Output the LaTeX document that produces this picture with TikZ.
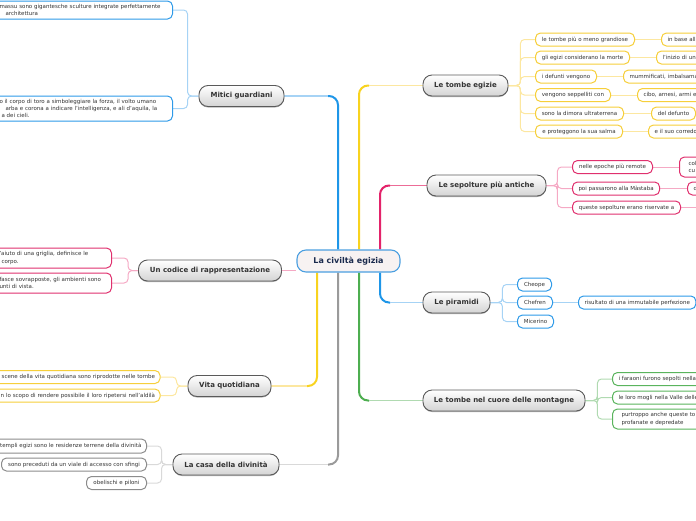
\documentclass[tikz,border=0pt]{standalone}
\usepackage{fontspec}
\setmainfont{DejaVu Sans}
\usetikzlibrary{calc,shadows,backgrounds}
\definecolor{bS}{HTML}{1E96E8}
\definecolor{bL}{HTML}{A6D3F5}
\definecolor{bB}{HTML}{2E9AE8}
\definecolor{yS}{HTML}{F8D31F}
\definecolor{yL}{HTML}{FCE7A0}
\definecolor{yB}{HTML}{F6CF3A}
\definecolor{pS}{HTML}{E3236A}
\definecolor{pM}{HTML}{EC6C97}
\definecolor{pL}{HTML}{F5A9C4}
\definecolor{pB}{HTML}{E0306E}
\definecolor{gS}{HTML}{4DAE50}
\definecolor{gL}{HTML}{B0DAB1}
\definecolor{gB}{HTML}{5AB45D}
\definecolor{kS}{HTML}{9A9A9A}
\definecolor{kL}{HTML}{D9D9D9}
\definecolor{kB}{HTML}{8C8C8C}
\definecolor{topicB}{HTML}{5A5A5A}
\definecolor{topicBot}{HTML}{D4D4D4}
\definecolor{topicT}{HTML}{333333}
\definecolor{ctrB}{HTML}{4B9FE0}
\definecolor{ctrF}{HTML}{F7F2F2}
\definecolor{ctrT}{HTML}{1B2B4E}
\definecolor{subT}{HTML}{333333}
\tikzset{
  topic/.style={draw=topicB, line width=0.9pt, rounded corners=9pt, top color=white, bottom color=topicBot,
    minimum height=21pt, inner sep=0pt, text=topicT, font=\bfseries\fontsize{7}{8}\selectfont,
    drop shadow={shadow xshift=0pt, shadow yshift=-1pt, opacity=0.3, fill=black}},
  ctr/.style={draw=ctrB, line width=1.1pt, rounded corners=9pt, fill=ctrF, text=ctrT,
    font=\bfseries\fontsize{8}{9}\selectfont, minimum width=103pt, minimum height=22pt, inner sep=0pt},
  sub/.style={line width=1pt, rounded corners=5pt, fill=white, minimum height=13pt, inner xsep=6pt,
    inner ysep=0pt, text=subT, font=\fontsize{5.5}{7.2}\selectfont},
  ysub/.style={sub, draw=yB}, psub/.style={sub, draw=pB}, bsub/.style={sub, draw=bB},
  gsub/.style={sub, draw=gB}, ksub/.style={sub, draw=kB},
  rcut/.style={anchor=west, align=left, text width=80pt},
  lcut/.style={anchor=east, align=left, inner xsep=5pt},
  lcutr/.style={anchor=east, align=right, inner xsep=5pt, text width=200pt},
  stem/.style={line width=2pt, rounded corners=9pt},
  stemend/.style={line width=1.3pt},
  twig/.style={line width=1pt, rounded corners=4pt}
}
\begin{document}
\begin{tikzpicture}[x=1pt,y=-1pt]
\useasboundingbox (0,0) rectangle (696,520);
% central and main topics
\node[ctr] (ctr) at (348.5,261) {La civiltà egizia};
\node[topic, minimum width=85pt] (mitici) at (241.5,96) {Mitici guardiani};
\node[topic, minimum width=143pt] (codice) at (210,270.5) {Un codice di rappresentazione};
\node[topic, minimum width=83pt] (vita) at (229.5,386) {Vita quotidiana};
\node[topic, minimum width=106pt] (casa) at (226,464.5) {La casa della divinità};
\node[topic, minimum width=85pt] (tombe) at (465.5,85.5) {Le tombe egizie};
\node[topic, minimum width=119pt] (sep) at (486.5,185.5) {Le sepolture più antiche};
\node[topic, minimum width=67pt] (pir) at (456.5,302.5) {Le piramidi};
\node[topic, minimum width=162pt] (mont) at (504,400.5) {Le tombe nel cuore delle montagne};
% Le tombe egizie
\node[ysub, anchor=west, minimum width=99pt] (ty1) at (535,39.5) {le tombe più o meno grandiose};
\node[ysub, anchor=west, minimum width=94pt] (ty2) at (535,57.5) {gli egizi considerano la morte};
\node[ysub, anchor=west, minimum width=61pt] (ty3) at (535,76.5) {i defunti vengono};
\node[ysub, anchor=west, minimum width=75pt] (ty4) at (535,95) {vengono seppelliti con};
\node[ysub, anchor=west, minimum width=88pt] (ty5) at (535,113.5) {sono la dimora ultraterrena};
\node[ysub, anchor=west, minimum width=87pt] (ty6) at (535,131.5) {e proteggono la sua salma};
\node[ysub, rcut] (tz1) at (661,39.5) {in base all};
\node[ysub, rcut] (tz2) at (656,57.5) {l'inizio di un};
\node[ysub, rcut] (tz3) at (623,76.5) {mummificati, imbalsama};
\node[ysub, rcut] (tz4) at (637,95) {cibo, arnesi, armi e};
\node[ysub, anchor=west, minimum width=44pt] (tz5) at (651,113.5) {del defunto};
\node[ysub, rcut] (tz6) at (648,131.5) {e il suo corredo};
% Le sepolture più antiche
\node[psub, anchor=west, minimum width=80pt] (sp1) at (572,167) {nelle epoche più remote};
\node[psub, anchor=west, minimum width=87pt] (sp2) at (572,188.5) {poi passarono alla Màstaba};
\node[psub, anchor=west, minimum width=108pt] (sp3) at (572,207.5) {queste sepolture erano riservate a};
\node[psub, rcut, minimum height=20pt, inner xsep=9pt] (sq1) at (679,167) {col\\cu};
\node[psub, rcut] (sq2) at (687,188.5) {d};
\coordinate (sq3) at (700,207.5);
% Le piramidi
\node[bsub, anchor=west, minimum width=34pt] (pb1) at (517,284.5) {Cheope};
\node[bsub, anchor=west, minimum width=35pt] (pb2) at (517,302.5) {Chefren};
\node[bsub, anchor=west, minimum width=36pt] (pb3) at (517,321.5) {Micerino};
\node[bsub, anchor=west, minimum width=117pt] (pr) at (578,302.5) {risultato di una immutabile perfezione};
% Le tombe nel cuore delle montagne
\node[gsub, rcut] (gm1) at (612,379) {i faraoni furono sepolti nella};
\node[gsub, rcut] (gm2) at (612,397.5) {le loro mogli nella Valle delle};
\node[gsub, rcut, minimum height=20pt, inner xsep=9pt] (gm3) at (612,419) {purtroppo anche queste to\\profanate e depredate};
% Mitici guardiani
\node[bsub, lcut, text width=168pt, minimum height=18pt] (mg1) at (173,10)
  {\mbox{massu sono gigantesche sculture integrate perfettamente}\\\mbox{\hspace*{6pt}architettura}};
\node[bsub, lcut, text width=168pt, minimum height=25pt] (mg2) at (173,108.5)
  {\mbox{o il corpo di toro a simboleggiare la forza, il volto umano}\\\mbox{\hspace*{6pt}arba e corona a indicare l'intelligenza, e ali d'aquila, la}\\\mbox{\hspace*{2pt}a dei cieli.}};
% Un codice di rappresentazione
\node[psub, lcut, text width=107pt, minimum height=20pt] (cp1) at (112,258)
  {\mbox{'aiuto di una griglia, definisce le}\\\mbox{\hspace*{2pt}corpo.}};
\node[psub, lcut, text width=107pt, minimum height=20pt] (cp2) at (112,283)
  {\mbox{fasce sovrapposte, gli ambienti sono}\\\mbox{unti di vista.}};
% Vita quotidiana
\node[ysub, lcutr] (vy1) at (160.5,377) {scene della vita quotidiana sono riprodotte nelle tombe};
\node[ysub, lcutr] (vy2) at (160.5,395.5) {n lo scopo di rendere possibile il loro ripetersi nell'aldilà};
% La casa della divinità
\node[ksub, lcutr, minimum height=14pt] (cg1) at (147,446) {templi egizi sono le residenze terrene della divinità};
\node[ksub, anchor=east, minimum width=145pt] (cg2) at (147,464.5) {sono preceduti da un viale di accesso con sfingi};
\node[ksub, anchor=east, minimum width=60pt] (cg3) at (147,483) {obelischi e piloni};

\begin{scope}[on background layer]
% stems from the centre
\coordinate (s1) at ([xshift=-10.5pt]ctr.north);
\coordinate (s2) at ([xshift=10.5pt]ctr.north);
\coordinate (s3) at ([xshift=31.5pt]ctr.north);
\coordinate (s4) at ([xshift=-31.5pt]ctr.south);
\coordinate (s5) at ([xshift=-10.5pt]ctr.south);
\coordinate (s6) at ([xshift=10.5pt]ctr.south);
\coordinate (s7) at ([xshift=31.5pt]ctr.south);
\coordinate (e1) at ($(s1 |- mitici.east)+(-10,0)$);
\coordinate (e2) at ($(s2 |- tombe.west)+(10,0)$);
\coordinate (e3) at ($(s3 |- sep.west)+(10,0)$);
\coordinate (e4) at ($(s4 |- vita.east)+(-10,0)$);
\coordinate (e5) at ($(s5 |- casa.east)+(-10,0)$);
\coordinate (e6) at ($(s6 |- mont.west)+(10,0)$);
\coordinate (e7) at ($(s7 |- pir.west)+(10,0)$);
\draw[stem, bS] (s1) |- (e1);  \draw[stemend, bL] (e1) -- (mitici.east);
\draw[stem, yS] (s2) |- (e2);  \draw[stemend, yL] (e2) -- (tombe.west);
\draw[stem, pS] (s3) |- (e3);  \draw[stemend, pM] (e3) -- (sep.west);
\draw[stem, yS] (s4) |- (e4);  \draw[stemend, yL] (e4) -- (vita.east);
\draw[stem, kS] (s5) |- (e5);  \draw[stemend, kL] (e5) -- (casa.east);
\draw[stem, gS] (s6) |- (e6);  \draw[stemend, gL] (e6) -- (mont.west);
\draw[stem, bS] (s7) |- (e7);  \draw[stemend, bL] (e7) -- (pir.west);
\draw[stemend, pL] (codice.east) -- (codice.east -| ctr.west);
% twigs
\foreach \c in {ty1,ty2,ty3,ty4,ty5,ty6} \draw[twig, yL] (tombe.east) -- ++(12,0) |- (\c.west);
\foreach \a/\b in {ty1/tz1,ty2/tz2,ty3/tz3,ty4/tz4,ty5/tz5,ty6/tz6} \draw[twig, yL] (\a.east) -- (\b.west);
\foreach \c in {sp1,sp2,sp3} \draw[twig, pL] (sep.east) -- ++(11,0) |- (\c.west);
\draw[twig, pL] (sp1.east) -- (sq1.west);
\draw[twig, pL] (sp2.east) -- (sq2.west);
\draw[twig, pL] (sp3.east) -- (sq3);
\foreach \c in {pb1,pb2,pb3} \draw[twig, bL] (pir.east) -- ++(12,0) |- (\c.west);
\draw[twig, bL] (pb2.east) -- (pr.west);
\foreach \c in {gm1,gm2,gm3} \draw[twig, gL] (mont.east) -- ++(12,0) |- (\c.west);
\foreach \c in {mg1,mg2} \draw[twig, bL] (mitici.west) -- ++(-11,0) |- (\c.east);
\foreach \c in {cp1,cp2} \draw[twig, pL] (codice.west) -- ++(-10,0) |- (\c.east);
\foreach \c in {vy1,vy2} \draw[twig, yL] (vita.west) -- ++(-11,0) |- (\c.east);
\foreach \c in {cg1,cg2,cg3} \draw[twig, kL] (casa.west) -- ++(-11,0) |- (\c.east);
\end{scope}
\end{tikzpicture}
\end{document}
